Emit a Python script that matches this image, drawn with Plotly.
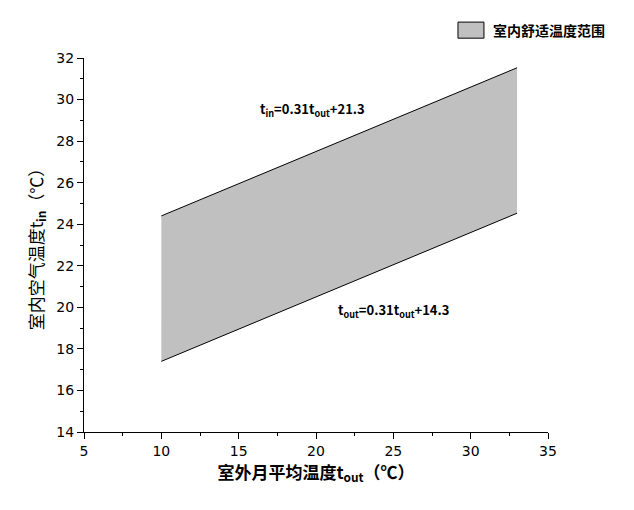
import plotly.graph_objects as go

t_out = [10, 33]
slope = 0.31
upper_icpt = 21.3
lower_icpt = 14.3
upper = [slope * x + upper_icpt for x in t_out]
lower = [slope * x + lower_icpt for x in t_out]
legend_label = "室内舒适温度范围"

poly_x = t_out + t_out[::-1] + [t_out[0]]
poly_y = upper + lower[::-1] + [upper[0]]

font_cjk = "Noto Sans CJK SC, DejaVu Sans"

fig = go.Figure()
fig.add_trace(go.Scatter(x=poly_x, y=poly_y, fill="toself", fillcolor="#C0C0C0",
                         line=dict(color="rgba(0,0,0,0)", width=0), mode="lines",
                         name=legend_label, showlegend=False, hoverinfo="skip"))
fig.add_trace(go.Scatter(x=t_out, y=upper, mode="lines", line=dict(color="black", width=1),
                         showlegend=False))
fig.add_trace(go.Scatter(x=t_out, y=lower, mode="lines", line=dict(color="black", width=1),
                         showlegend=False))

# legend box + label
fig.add_shape(type="rect", xref="paper", yref="paper", x0=0.806, x1=0.862, y0=1.053, y1=1.096,
              fillcolor="#C0C0C0", line=dict(color="black", width=1))
fig.add_annotation(xref="paper", yref="paper", x=0.877, y=1.075, xanchor="left", yanchor="middle",
                   text="<b>" + legend_label + "</b>", showarrow=False,
                   font=dict(size=14, color="black", family=font_cjk))

fig.add_annotation(x=19.8, y=29.5, text="<b>t<sub>in</sub>=0.31t<sub>out</sub>+21.3</b>",
                   showarrow=False, font=dict(size=13, color="black", family=font_cjk))
fig.add_annotation(x=25.0, y=19.85, text="<b>t<sub>out</sub>=0.31t<sub>out</sub>+14.3</b>",
                   showarrow=False, font=dict(size=13, color="black", family=font_cjk))

fig.update_layout(
    width=634, height=510,
    margin=dict(l=76, r=94, t=50, b=86),
    paper_bgcolor="white", plot_bgcolor="white",
    font=dict(family=font_cjk, color="black"),
    showlegend=False,
    xaxis=dict(range=[5, 35], tickvals=[5, 10, 15, 20, 25, 30, 35], showgrid=False,
               zeroline=False, showline=True, linecolor="black", linewidth=1,
               ticks="outside", ticklen=6, tickcolor="black",
               minor=dict(ticks="outside", ticklen=3, dtick=2.5, tickcolor="black"),
               tickfont=dict(size=14, family="DejaVu Sans"),
               title=dict(text="<b>室外月平均温度t<sub>out</sub>（℃）</b>",
                          font=dict(size=17, family=font_cjk), standoff=8)),
    yaxis=dict(range=[14, 32], tickvals=list(range(14, 33, 2)), showgrid=False,
               zeroline=False, showline=True, linecolor="black", linewidth=1,
               ticks="outside", ticklen=6, tickcolor="black",
               minor=dict(ticks="outside", ticklen=3, dtick=1, tickcolor="black"),
               tickfont=dict(size=14, family="DejaVu Sans"),
               title=dict(text="室内空气温度t<sub><b>in</b></sub>（℃）",
                          font=dict(size=17, family=font_cjk), standoff=8)),
)

fig.write_html("out.html")
